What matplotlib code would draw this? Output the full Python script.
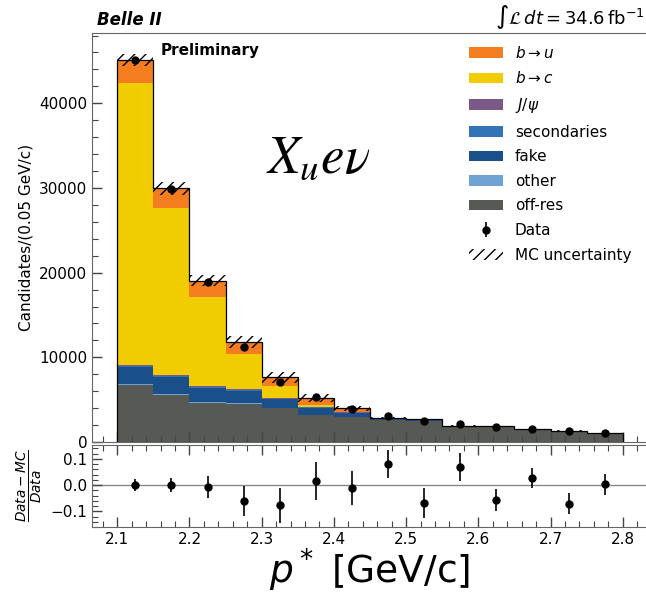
import numpy as np
import matplotlib
matplotlib.use('Agg')
import matplotlib.pyplot as plt
from matplotlib.ticker import MultipleLocator, AutoMinorLocator

# ------------------------------------------------------------
# p* spectrum, 14 bins of 0.05 GeV/c between 2.1 and 2.8
# ------------------------------------------------------------
bin_lo, bin_width, n_bins = 2.10, 0.05, 14
edges = bin_lo + bin_width * np.arange(n_bins + 1)
centers = 0.5 * (edges[:-1] + edges[1:])

# MC components (candidates per bin), bottom of the stack first
offres = [6700, 5600, 4600, 4480, 3980, 3190, 2910, 2560, 2480, 1870, 1800, 1450, 1300, 990]
other = [150, 50, 150, 80, 60, 40, 30, 20, 15, 10, 10, 10, 10, 8]
fake = [2000, 2000, 1650, 1500, 1000, 800, 480, 100, 60, 30, 25, 15, 15, 10]
secondaries = [100, 100, 100, 60, 60, 50, 40, 20, 10, 5, 5, 5, 5, 4]
jpsi = [200, 200, 150, 150, 130, 90, 40, 10, 5, 0, 0, 0, 0, 0]
b2c = [33300, 19700, 10500, 4150, 1380, 160, 60, 20, 10, 5, 5, 5, 3, 3]
b2u = [2650, 2300, 1900, 1410, 1060, 860, 430, 120, 100, 10, 5, 5, 5, 5]

# MC uncertainty (absolute, per bin)
mc_unc = [700, 800, 650, 700, 650, 420, 300, 120, 90, 60, 50, 50, 40, 35]

# data
data = [45130, 29850, 18900, 11250, 7120, 5300, 3950, 3120, 2515, 2080, 1755, 1530, 1260, 1020]

# (Data - MC)/Data and its uncertainty
ratio = [0.000, 0.000, -0.009, -0.061, -0.077, 0.016, -0.011, 0.082, -0.068, 0.068, -0.057, 0.027, -0.071, 0.003]
ratio_err = [0.022, 0.028, 0.042, 0.056, 0.067, 0.073, 0.064, 0.053, 0.056, 0.053, 0.043, 0.039, 0.041, 0.041]

components = [
    (offres, 'off-res', '#575955'),
    (other, 'other', '#6fa3d3'),
    (fake, 'fake', '#1b4f8a'),
    (secondaries, 'secondaries', '#3274b5'),
    (jpsi, r'$J/\psi$', '#7a5888'),
    (b2c, r'$b{\to}c$', '#f0cc00'),
    (b2u, r'$b{\to}u$', '#f47d20'),
]

plt.rcParams.update({
    'font.family': 'DejaVu Sans',
    'font.size': 11,
    'xtick.direction': 'in',
    'ytick.direction': 'in',
    'xtick.labelsize': 11,
    'ytick.labelsize': 11,
    'axes.edgecolor': '#666666',
    'xtick.color': '#444444',
    'ytick.color': '#444444',
    'xtick.labelcolor': 'black',
    'ytick.labelcolor': 'black',
})

W, H = 646, 603
fig = plt.figure(figsize=(W / 100, H / 100), dpi=100)
ax = fig.add_axes([92 / W, 1 - 442 / H, 556 / W, 409 / H])
axr = fig.add_axes([92 / W, 1 - 527 / H, 556 / W, 82.5 / H], sharex=ax)

# ─── stacked MC ───
bottom = np.zeros(n_bins)
handles = []
for vals, label, col in components:
    vals = np.asarray(vals, dtype=float)
    h = ax.bar(edges[:-1], vals, width=bin_width, bottom=bottom, align='edge',
               color=col, linewidth=0, label=label)
    handles.append(h)
    bottom = bottom + vals
total = bottom

ax.stairs(total, edges, baseline=0, color='black', lw=0.9, zorder=3)

# MC uncertainty band
unc = np.asarray(mc_unc, dtype=float)
h_unc = ax.bar(edges[:-1], 2 * unc, width=bin_width, bottom=total - unc,
               align='edge', fill=False, hatch='///', linewidth=0,
               edgecolor='black', label='MC uncertainty', zorder=4)

# data
data = np.asarray(data, dtype=float)
h_data = ax.errorbar(centers, data, yerr=np.sqrt(data), fmt='o', color='black',
                     ms=5, elinewidth=1.2, capsize=0, label='Data', zorder=5)

ax.set_xlim(2.065, 2.835)
ax.set_ylim(0, 48300)
ax.yaxis.set_major_locator(MultipleLocator(10000))
ax.yaxis.set_minor_locator(MultipleLocator(2000))
ax.xaxis.set_major_locator(MultipleLocator(0.1))
ax.xaxis.set_minor_locator(MultipleLocator(0.02))
ax.tick_params(which='major', length=7, width=1)
ax.tick_params(which='minor', length=4, width=0.8)
ax.tick_params(axis='x', labelbottom=False)
ax.set_ylabel('Candidates/(0.05 GeV/c)', fontsize=11)

leg_handles = handles[::-1] + [h_data, h_unc]
leg_labels = [h.get_label() for h in handles[::-1]] + ['Data', 'MC uncertainty']
ax.legend(leg_handles, leg_labels, loc='upper right', bbox_to_anchor=(0.995, 1.005),
          frameon=False, fontsize=11, handlelength=2.2, labelspacing=0.63,
          handletextpad=0.8)

# labels on the main panel
fig.text(97 / W, 1 - 20 / H, 'Belle II', fontsize=12, fontweight='bold',
         fontstyle='italic', va='center', ha='left')
fig.text(645 / W, 1 - 17 / H, r'$\int\mathcal{L}\,dt = 34.6\,\mathrm{fb}^{-1}$',
         fontsize=13, va='center', ha='right')
ax.text(161 / W, 1 - 51 / H, 'Preliminary', transform=fig.transFigure,
        fontsize=11, fontweight='bold', va='center', ha='left')
ax.text(318 / W, 1 - 158 / H, r'$X_u e\nu$', transform=fig.transFigure,
        fontsize=38, math_fontfamily='stix', va='center', ha='center')

# ─── ratio panel ───
axr.axhline(0.0, color='#888888', lw=1.0, zorder=1)
axr.errorbar(centers, ratio, yerr=ratio_err, fmt='o', color='black', ms=5,
             elinewidth=1.2, capsize=0, zorder=3)
axr.set_ylim(-0.16, 0.155)
axr.yaxis.set_major_locator(MultipleLocator(0.1))
axr.yaxis.set_minor_locator(AutoMinorLocator())
axr.tick_params(which='major', length=7, width=1, top=True)
axr.tick_params(which='minor', length=4, width=0.8, top=True)
axr.set_ylabel(r'$\frac{Data-MC}{Data}$', fontsize=14)
axr.set_xlabel(r'$p^*$ [GeV/c]', fontsize=27, labelpad=0)

fig.align_ylabels([ax, axr])
fig.savefig('out.png', dpi=100)
